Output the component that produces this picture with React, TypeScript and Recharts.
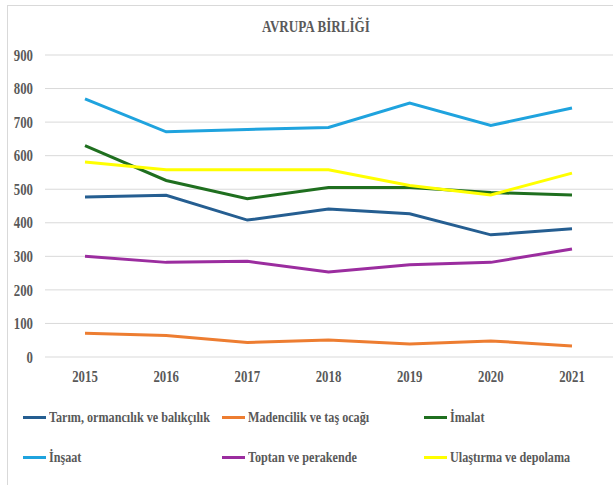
import { CartesianGrid, Line, LineChart, XAxis, YAxis } from "recharts";

const years = ["2015", "2016", "2017", "2018", "2019", "2020", "2021"];

const tarim = [477, 482, 408, 441, 427, 364, 382];
const madencilik = [71, 64, 43, 51, 39, 48, 33];
const imalat = [630, 526, 472, 505, 505, 490, 483];
const insaat = [769, 671, 678, 684, 757, 690, 742];
const toptan = [300, 282, 285, 253, 275, 282, 322];
const ulastirma = [581, 558, 558, 558, 511, 483, 548];

const yTicks = [0, 100, 200, 300, 400, 500, 600, 700, 800, 900];

const series = [
  { key: "tarim", name: "Tarım, ormancılık ve balıkçılık", color: "#255E91", values: tarim },
  { key: "madencilik", name: "Madencilik ve taş ocağı", color: "#ED7D31", values: madencilik },
  { key: "imalat", name: "İmalat", color: "#1F6F1F", values: imalat },
  { key: "insaat", name: "İnşaat", color: "#1FA3DE", values: insaat },
  { key: "toptan", name: "Toptan ve perakende", color: "#9B2D9F", values: toptan },
  { key: "ulastirma", name: "Ulaştırma ve depolama", color: "#FFFF00", values: ulastirma },
];

const data = years.map((y, i) => {
  const row: Record<string, string | number> = { year: y };
  series.forEach((s) => {
    row[s.key] = s.values[i];
  });
  return row;
});

const serif = "'Liberation Serif', 'Times New Roman', serif";
const grey = "#595959";

// narrow serif ticks, squeezed horizontally like the original
function NarrowTick(props: any) {
  const { x, y, payload, textAnchor, dy } = props;
  return (
    <g transform={`translate(${x},${y})`}>
      <text
        transform="scale(0.8,1)"
        textAnchor={textAnchor}
        dy={dy}
        fontFamily={serif}
        fontSize={16}
        fontWeight={700}
        fill={grey}
      >
        {payload.value}
      </text>
    </g>
  );
}

const legendCols = [23, 222, 424];
const legendRows = [417, 457];

export default function App() {
  return (
    <div style={{ position: "absolute", left: 0, top: 0, width: 613, height: 485, overflow: "hidden", background: "#fff" }}>
      <div
        style={{
          position: "absolute",
          left: 7,
          top: 5,
          width: 640,
          height: 490,
          border: "1px solid #d9d9d9",
          boxSizing: "border-box",
        }}
      />
      <div
        style={{
          position: "absolute",
          left: 0,
          top: 18,
          width: 632,
          textAlign: "center",
          fontFamily: serif,
          fontWeight: 700,
          fontSize: 16,
          color: grey,
          transform: "scaleX(0.82)",
          transformOrigin: "316px 0",
        }}
      >
        AVRUPA BİRLİĞİ
      </div>
      <div style={{ position: "absolute", left: 0, top: 0 }}>
        <LineChart width={613} height={400} data={data} margin={{ top: 55, right: 0, bottom: 0, left: 0 }}>
          <CartesianGrid vertical={false} stroke="#d9d9d9" strokeWidth={1} />
          <XAxis
            dataKey="year"
            axisLine={false}
            tickLine={false}
            tickSize={0}
            tickMargin={14}
            height={43}
            tick={(p: any) => <NarrowTick {...p} textAnchor="middle" dy="0.71em" />}
            interval={0}
            padding={{ left: 40, right: 41 }}
          />
          <YAxis
            domain={[0, 900]}
            ticks={yTicks}
            axisLine={false}
            tickLine={false}
            tickSize={0}
            tickMargin={12}
            width={45}
            tick={(p: any) => <NarrowTick {...p} textAnchor="end" dy="0.355em" />}
          />
          {series.map((s) => (
            <Line
              key={s.key}
              dataKey={s.key}
              name={s.name}
              type="linear"
              stroke={s.color}
              strokeWidth={3}
              dot={false}
              isAnimationActive={false}
            />
          ))}
        </LineChart>
      </div>
      {series.map((s, i) => (
        <div
          key={s.key}
          style={{
            position: "absolute",
            left: legendCols[i % 3],
            top: legendRows[Math.floor(i / 3)] - 10,
            height: 20,
            display: "flex",
            alignItems: "center",
            whiteSpace: "nowrap",
          }}
        >
          <span style={{ display: "inline-block", width: 23, height: 3, background: s.color, marginRight: 3 }} />
          <span
            style={{
              display: "inline-block",
              fontFamily: serif,
              fontWeight: 700,
              fontSize: 15,
              color: grey,
              transform: "scaleX(0.81)",
              transformOrigin: "0 50%",
            }}
          >
            {s.name}
          </span>
        </div>
      ))}
    </div>
  );
}
